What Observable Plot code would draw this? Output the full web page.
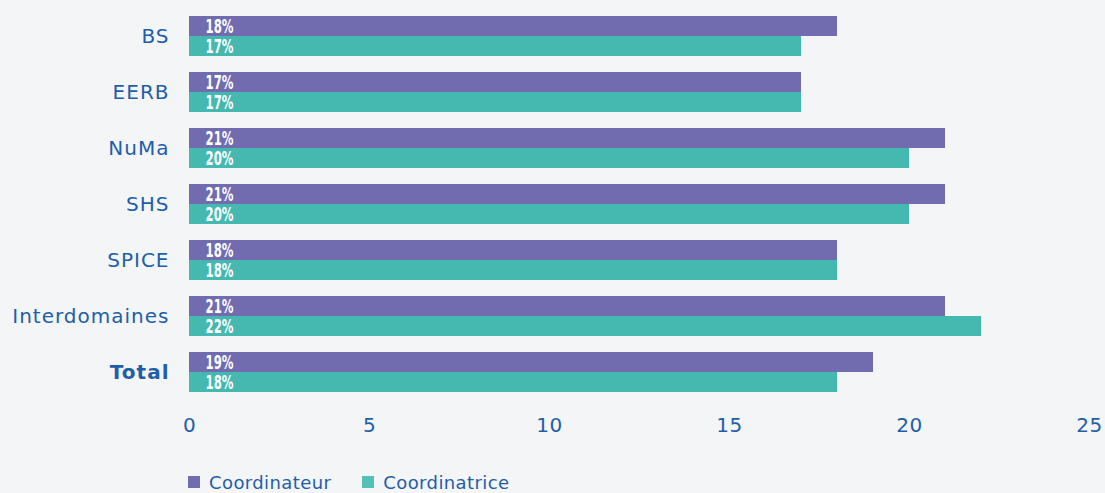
<!DOCTYPE html>
<html>
<head>
<meta charset="utf-8">
<script src="https://cdn.jsdelivr.net/npm/d3@7"></script>
<script src="https://cdn.jsdelivr.net/npm/@observablehq/plot@0.6"></script>
<style>
  html, body { margin: 0; padding: 0; background: #f3f5f7; }
  #chart { width: 1105px; height: 493px; overflow: hidden; position: relative; }
  #chart g[aria-label="y-axis tick label"] text { letter-spacing: 1px; }
  #chart g[aria-label="x-axis tick label"] text { letter-spacing: 0.5px; }
  .legend { display: flex; align-items: center; margin-left: 188px; margin-top: 22px;
            font-family: "DejaVu Sans", sans-serif; font-size: 18px; letter-spacing: 0.4px; color: #1f5ea8; height: 20px; }
  .legend .sw { width: 12px; height: 12px; display: inline-block; margin-right: 9px; }
  .legend .item { display: flex; align-items: center; margin-right: 31px; }
</style>
</head>
<body>
<div id="chart"></div>
<script>
const categories = ["BS", "EERB", "NuMa", "SHS", "SPICE", "Interdomaines", "Total"];
const coordinateur = [18, 17, 21, 21, 18, 21, 19];
const coordinatrice = [17, 17, 20, 20, 18, 22, 18];
const seriesNames = ["Coordinateur", "Coordinatrice"];
const colors = ["#716cb0", "#45b8b0"];
const xTicks = [0, 5, 10, 15, 20, 25];

const rowsA = categories.map((c, i) => ({cat: c, value: coordinateur[i]}));
const rowsB = categories.map((c, i) => ({cat: c, value: coordinatrice[i]}));

const textColor = "#1f5ea8";
const fontFam = "'DejaVu Sans', sans-serif";
const labelFont = "'DejaVu Sans', sans-serif";

const plot = Plot.plot({
  width: 1105,
  height: 450,
  marginLeft: 189,
  marginRight: 16,
  marginTop: 7,
  marginBottom: 50,
  style: {background: "#f3f5f7", fontFamily: fontFam, color: textColor},
  x: {domain: [0, 25], ticks: xTicks},
  y: {domain: categories, paddingInner: 16/56, paddingOuter: 0.1428, align: 0.5},
  marks: [
    Plot.barX(rowsA, {x: "value", y: "cat", fill: colors[0], insetBottom: 20}),
    Plot.barX(rowsB, {x: "value", y: "cat", fill: colors[1], insetTop: 20}),
    Plot.text(rowsA, {x: () => 0, y: "cat", text: d => d.value + "%", dx: 16, dy: -10, textAnchor: "start",
      fill: "white", fontFamily: labelFont, fontWeight: "bold", fontSize: 19}),
    Plot.text(rowsB, {x: () => 0, y: "cat", text: d => d.value + "%", dx: 16, dy: 10, textAnchor: "start",
      fill: "white", fontFamily: labelFont, fontWeight: "bold", fontSize: 19}),
    Plot.axisX(xTicks, {tickSize: 0, tickPadding: 17, fontSize: 20, fill: textColor, label: null}),
    Plot.axisY(categories.filter(c => c !== "Total"), {tickSize: 0, tickPadding: 20, fontSize: 20, fill: textColor, label: null}),
    Plot.axisY(["Total"], {tickSize: 0, tickPadding: 20, fontSize: 20, fontWeight: "bold", fill: textColor, label: null})
  ]
});

// condense the in-bar value labels (narrow display face look) without touching their positions
d3.select(plot).selectAll('g[fill="white"] text')
  .attr("textLength", 28)
  .attr("lengthAdjust", "spacingAndGlyphs");

const chart = document.getElementById("chart");
chart.appendChild(plot);

const legend = document.createElement("div");
legend.className = "legend";
seriesNames.forEach((s, i) => {
  const item = document.createElement("span");
  item.className = "item";
  const sw = document.createElement("span");
  sw.className = "sw";
  sw.style.background = i === 1 ? "#55c0b8" : colors[i];
  item.appendChild(sw);
  item.appendChild(document.createTextNode(s));
  legend.appendChild(item);
});
chart.appendChild(legend);
</script>
</body>
</html>
